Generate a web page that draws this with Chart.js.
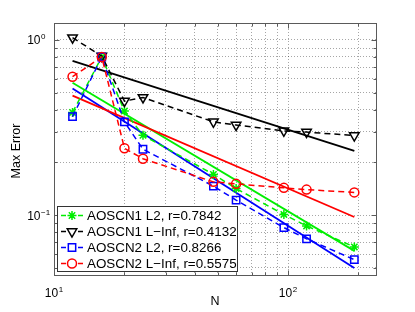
<!DOCTYPE html>
<html>
<head>
<meta charset="utf-8">
<script src="https://cdn.jsdelivr.net/npm/chart.js@4.4.0/dist/chart.umd.min.js"></script>
<style>
  html, body { margin: 0; padding: 0; background: #fff; }
</style>
</head>
<body>
<canvas id="maxerr" width="415" height="312"></canvas>
<script>
// grid sizes N and max errors
const N = [12, 16, 20, 24, 48, 60, 96, 120, 192];
const cn1L2   = [0.386, 0.80, 0.393, 0.286, 0.171, 0.142, 0.101, 0.0869, 0.0659];
const cn1Linf = [1.03, 0.81, 0.448, 0.470, 0.341, 0.327, 0.303, 0.298, 0.285];
const cn2L2   = [0.365, 0.80, 0.341, 0.238, 0.1465, 0.122, 0.085, 0.0733, 0.0558];
const cn2Linf = [0.617, 0.80, 0.241, 0.210, 0.155, 0.151, 0.1433, 0.140, 0.135];

// fitted power laws (end points of the solid lines)
const fitN = [12, 192];
const cn1L2Fit   = [0.570, 0.0626];
const cn1LinfFit = [0.759, 0.233];
const cn2L2Fit   = [0.529, 0.050];
const cn2LinfFit = [0.481, 0.0977];

const seriesLabels = [
  'AOSCN1 L2, r=0.7842',
  'AOSCN1 L\u2212Inf, r=0.4132',
  'AOSCN2 L2, r=0.8266',
  'AOSCN2 L\u2212Inf, r=0.5575'
];

const xTicks = [10, 20, 30, 40, 50, 60, 70, 80, 90, 100, 200];
const yTicks = [0.05, 0.06, 0.07, 0.08, 0.09, 0.1, 0.2, 0.3, 0.4, 0.5, 0.6, 0.7, 0.8, 0.9, 1];
const xDecades = [10, 100];
const xExponents = ['1', '2'];
const yDecades = [0.1, 1];
const yExponents = ['\u22121', '0'];

const colours = ['#00ee00', '#000000', '#0000ff', '#ff0000'];
const markers = [
  { pointStyle: 'star', radius: 4.5, rotation: 0 },
  { pointStyle: 'triangle', radius: 5.5, rotation: 180 },
  { pointStyle: 'rect', radius: 5.2, rotation: 0 },
  { pointStyle: 'circle', radius: 4.5, rotation: 0 }
];
const FONT = "'Liberation Sans', Arial, Helvetica, sans-serif";

const series = [cn1L2, cn1Linf, cn2L2, cn2Linf];
const fits = [cn1L2Fit, cn1LinfFit, cn2L2Fit, cn2LinfFit];

const datasets = [];
fits.forEach((f, i) => {
  datasets.push({
    label: seriesLabels[i] + ' fit',
    data: fitN.map((n, j) => ({ x: n, y: f[j] })),
    borderColor: colours[i],
    borderWidth: 1.8,
    pointRadius: 0,
    order: 8 - i
  });
});
series.forEach((s, i) => {
  datasets.push({
    label: seriesLabels[i],
    data: N.map((n, j) => ({ x: n, y: s[j] })),
    borderColor: colours[i],
    borderWidth: 1.5,
    borderDash: [6, 4],
    pointStyle: markers[i].pointStyle,
    pointRadius: markers[i].radius,
    pointRotation: markers[i].rotation,
    pointBorderColor: colours[i],
    pointBackgroundColor: 'rgba(0,0,0,0)',
    pointBorderWidth: 1.5,
    order: 4 - i
  });
});

function drawPow(ctx, exp, x, y, align) {
  ctx.font = '12px ' + FONT;
  const wb = ctx.measureText('10').width;
  ctx.font = '8px ' + FONT;
  const we = ctx.measureText(exp).width;
  let x0;
  if (align === 'right') x0 = x - wb;      // "10" ends at x
  else x0 = x - (wb + we + 0.5) / 2;       // whole label centred
  ctx.textAlign = 'left';
  ctx.textBaseline = 'alphabetic';
  ctx.font = '12px ' + FONT;
  ctx.fillText('10', x0, y);
  ctx.font = '8px ' + FONT;
  ctx.fillText(exp, x0 + wb + 0.5, y - 5);
}

const matlabAxes = {
  id: 'matlabAxes',
  beforeDraw(chart) {
    const ctx = chart.ctx;
    ctx.save();
    ctx.fillStyle = '#fff';
    ctx.fillRect(0, 0, chart.width, chart.height);
    ctx.restore();
  },
  afterDatasetsDraw(chart) {
    const { ctx, chartArea: a, scales: { x, y } } = chart;
    const L = Math.round(a.left) + 0.5, R = Math.round(a.right) - 0.5;
    const T = Math.round(a.top) + 0.5, B = Math.round(a.bottom) - 0.5;
    ctx.save();
    ctx.strokeStyle = '#5a5a5a';
    ctx.lineWidth = 1;
    ctx.beginPath();
    xTicks.forEach(v => {
      const px = Math.round(x.getPixelForValue(v)) + 0.5;
      const len = xDecades.includes(v) ? 5 : 3;
      ctx.moveTo(px, B); ctx.lineTo(px, B - len);
      ctx.moveTo(px, T); ctx.lineTo(px, T + len);
    });
    yTicks.forEach(v => {
      const py = Math.round(y.getPixelForValue(v)) + 0.5;
      const len = yDecades.includes(v) ? 5 : 3;
      ctx.moveTo(L, py); ctx.lineTo(L + len, py);
      ctx.moveTo(R, py); ctx.lineTo(R - len, py);
    });
    ctx.stroke();
    ctx.strokeRect(L, T, R - L, B - T);
    ctx.restore();
  },
  afterDraw(chart) {
    const { ctx, chartArea: a, scales: { x, y } } = chart;
    ctx.save();
    ctx.fillStyle = '#000';
    // tick labels
    yDecades.forEach((v, i) => drawPow(ctx, yExponents[i], 40.5, y.getPixelForValue(v) + 4.3, 'right'));
    xDecades.forEach((v, i) => drawPow(ctx, xExponents[i], x.getPixelForValue(v), 297, 'center'));
    // axis titles
    ctx.font = '12.5px ' + FONT;
    ctx.textAlign = 'center';
    ctx.textBaseline = 'middle';
    ctx.fillText('N', 215, 302);
    ctx.translate(17, 151);
    ctx.rotate(-Math.PI / 2);
    ctx.fillText('Max Error', 0, 0);
    ctx.restore();

    // legend box
    ctx.save();
    const bx = 57.5, by = 206.5, bw = 180, bh = 65;
    ctx.fillStyle = '#fff';
    ctx.fillRect(bx, by, bw, bh);
    ctx.strokeStyle = '#333';
    ctx.lineWidth = 1;
    ctx.strokeRect(bx, by, bw, bh);
    seriesLabels.forEach((lab, i) => {
      const cy = 215.5 + i * 16;
      ctx.strokeStyle = colours[i];
      ctx.lineWidth = 1.5;
      ctx.setLineDash([]);
      ctx.beginPath();
      ctx.moveTo(61, cy); ctx.lineTo(66, cy);
      ctx.moveTo(78, cy); ctx.lineTo(83, cy);
      ctx.stroke();
      ctx.fillStyle = 'rgba(0,0,0,0)';
      Chart.helpers.drawPoint(ctx, {
        pointStyle: markers[i].pointStyle,
        rotation: markers[i].rotation,
        radius: markers[i].radius,
        borderWidth: 1.5
      }, 72, cy);
      ctx.fillStyle = '#000';
      ctx.font = '13.4px ' + FONT;
      ctx.textAlign = 'left';
      ctx.textBaseline = 'middle';
      ctx.fillText(lab, 87, cy + 0.5);
    });
    ctx.restore();
  }
};

const ctx = document.getElementById('maxerr').getContext('2d');
const errChart = new Chart(ctx, {
  type: 'line',
  data: { datasets: datasets },
  options: {
    responsive: false,
    animation: false,
    events: [],
    layout: { padding: { left: 0, top: 23, right: 38, bottom: 0 } },
    elements: { line: { tension: 0 } },
    plugins: { legend: { display: false }, tooltip: { enabled: false } },
    scales: {
      x: {
        type: 'logarithmic',
        min: 10,
        max: 240,
        ticks: { display: false, autoSkip: false },
        grid: { color: 'rgba(0,0,0,0.35)', lineWidth: 1, drawTicks: false },
        border: { display: false, dash: [1, 2] },
        afterBuildTicks: s => { s.ticks = xTicks.map(v => ({ value: v })); },
        afterFit: s => { s.height = 36; }
      },
      y: {
        type: 'logarithmic',
        min: 0.045,
        max: 1.25,
        ticks: { display: false, autoSkip: false },
        grid: { color: 'rgba(0,0,0,0.35)', lineWidth: 1, drawTicks: false },
        border: { display: false, dash: [1, 2] },
        afterBuildTicks: s => { s.ticks = yTicks.map(v => ({ value: v })); },
        afterFit: s => { s.width = 54; }
      }
    }
  },
  plugins: [matlabAxes]
});
</script>
</body>
</html>
